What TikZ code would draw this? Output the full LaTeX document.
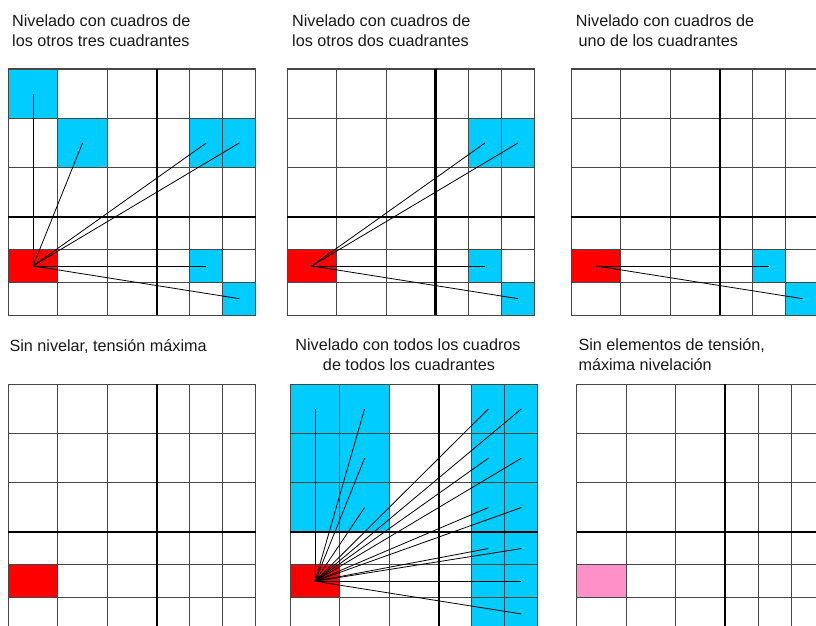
\documentclass[tikz,border=0pt]{standalone}
\usepackage{fontspec}
\setmainfont{Liberation Sans}
\definecolor{cyanc}{RGB}{0,204,255}
\definecolor{redc}{RGB}{255,0,0}
\definecolor{pinkc}{RGB}{255,145,200}
\definecolor{gridc}{RGB}{70,70,70}
\definecolor{textc}{RGB}{25,25,25}
\tikzset{
  cell/.style={inner sep=0pt, outer sep=0pt},
  gridline/.style={draw=gridc, line width=1pt},
  axisline/.style={draw=black, line width=2.2pt},
  conn/.style={draw=black, line width=0.8pt},
  ttl/.style={anchor=base west, inner sep=0pt, text=textc, font=\fontsize{16.2}{20}\selectfont},
  ttlc/.style={ttl, anchor=base},
}
\newcommand{\mkcells}[3]{%
  \foreach \c/\xa/\xb in {0/0/49.5,1/49.5/99,2/99/148.5,3/148.5/181.5,4/181.5/214.5,5/214.5/247.5}{
    \foreach \r/\ya/\yb in {0/0/49.3,1/49.3/98.6,2/98.6/147.9,3/147.9/180.6,4/180.6/213.3,5/213.3/246}{
      \node[cell, minimum width={(\xb-\xa)*1pt}, minimum height={(\yb-\ya)*1pt}] (#1-\c-\r) at ({#2+(\xa+\xb)/2},{#3+(\ya+\yb)/2}) {};
    }
  }
}
\newcommand{\mkgrid}[2]{%
  \foreach \xx in {0,49.5,99,181.5,214.5,247.5} \draw[gridline] ({#1+\xx},#2) -- ({#1+\xx},{#2+246});
  \foreach \yy in {0,49.3,98.6,180.6,213.3,246} \draw[gridline] (#1,{#2+\yy}) -- ({#1+247.5},{#2+\yy});
  \draw[axisline] ({#1+148.5},#2) -- ({#1+148.5},{#2+246});
  \draw[axisline] (#1,{#2+147.9}) -- ({#1+247.5},{#2+147.9});
}
\newcommand{\paint}[2]{\fill[#2] (#1.north west) rectangle (#1.south east);}
\begin{document}
\begin{tikzpicture}[x=1pt,y=-1pt]
\useasboundingbox (0,0) rectangle (816,626);
\fill[white] (0,0) rectangle (816,626);
\clip (0,0) rectangle (816,626);

% titles
\node[ttl] (t1a) at (12,26.5) {Nivelado con cuadros de};
\node[ttl] (t1b) at (12,46.7) {los otros tres cuadrantes};
\node[ttl] (t2a) at (292,26.5) {Nivelado con cuadros de};
\node[ttl] (t2b) at (292,46.7) {los otros dos cuadrantes};
\node[ttl] (t3a) at (575.7,26.5) {Nivelado con cuadros de};
\node[ttl] (t3b) at (578.3,46.7) {uno de los cuadrantes};
\node[ttl] (t4a) at (9.3,351.5) {Sin nivelar, tensión máxima};
\node[ttlc] (t5a) at (408,350.7) {Nivelado con todos los cuadros};
\node[ttlc] (t5b) at (409,370.7) {de todos los cuadrantes};
\node[ttl] (t6a) at (578.3,350.3) {Sin elementos de tensión,};
\node[ttl] (t6b) at (578.3,370.5) {máxima nivelación};

% cells
\mkcells{p1}{8.3}{69}
\mkcells{p2}{287}{69}
\mkcells{p3}{571.3}{69}
\mkcells{p4}{8.3}{384.3}
\mkcells{p5}{290.3}{384.3}
\mkcells{p6}{576.7}{384.3}

% panel 1
\paint{p1-0-4}{redc}
\foreach \n in {0-0,1-1,4-1,5-1,4-4,5-5} {\paint{p1-\n}{cyanc}}
% panel 2
\paint{p2-0-4}{redc}
\foreach \n in {4-1,5-1,4-4,5-5} {\paint{p2-\n}{cyanc}}
% panel 3
\paint{p3-0-4}{redc}
\foreach \n in {4-4,5-5} {\paint{p3-\n}{cyanc}}
% panel 4
\paint{p4-0-4}{redc}
% panel 5
\paint{p5-0-4}{redc}
\foreach \n in {0-0,0-1,0-2,1-0,1-1,1-2,4-0,4-1,4-2,4-3,4-4,4-5,5-0,5-1,5-2,5-3,5-4,5-5} {\paint{p5-\n}{cyanc}}
% panel 6
\paint{p6-0-4}{pinkc}

% grids
\mkgrid{8.3}{69}
\mkgrid{287}{69}
\mkgrid{571.3}{69}
\mkgrid{8.3}{384.3}
\mkgrid{290.3}{384.3}
\mkgrid{576.7}{384.3}

% connectors
\foreach \n in {0-0,1-1,4-1,5-1,4-4,5-5} {\draw[conn] (p1-0-4.center) -- (p1-\n.center);}
\foreach \n in {4-1,5-1,4-4,5-5} {\draw[conn] (p2-0-4.center) -- (p2-\n.center);}
\foreach \n in {4-4,5-5} {\draw[conn] (p3-0-4.center) -- (p3-\n.center);}
\foreach \n in {0-0,0-1,0-2,1-0,1-1,1-2,4-0,4-1,4-2,4-3,4-4,5-0,5-1,5-2,5-3,5-4,5-5} {\draw[conn] (p5-0-4.center) -- (p5-\n.center);}
\end{tikzpicture}
\end{document}
